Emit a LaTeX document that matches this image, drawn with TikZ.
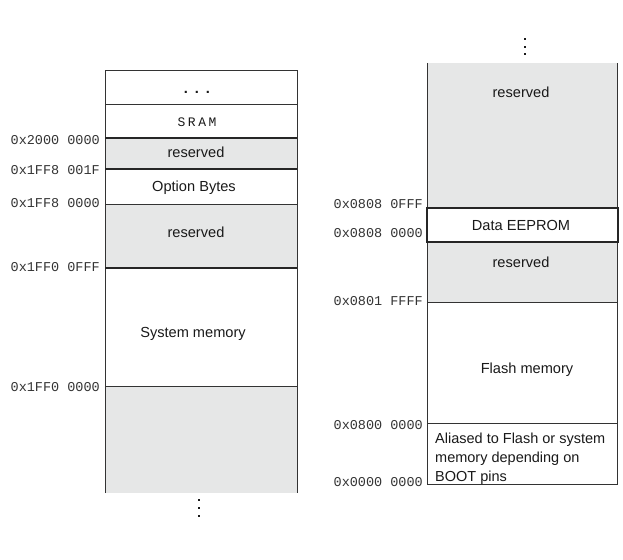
\documentclass[tikz,border=0pt]{standalone}
\usepackage{fontspec}
\setmainfont{Liberation Sans}
\setmonofont{Liberation Mono}
\usetikzlibrary{positioning}
\definecolor{resgray}{RGB}{230,231,231}
\tikzset{
  addr/.style={anchor=east, inner sep=0, text=black!80,
    font=\ttfamily\fontsize{13.5}{14}\selectfont},
  lbl/.style={inner sep=0, text=black!90, font=\fontsize{14.6}{16}\selectfont},
  thin/.style={draw=black!80, line width=0.9pt},
  thick/.style={draw=black!85, line width=1.8pt},
  vdot/.style={fill=black!90, minimum size=2.6pt, inner sep=0, rectangle},
}

\begin{document}
\begin{tikzpicture}[x=1pt,y=-1pt]
  \useasboundingbox (0,0) rectangle (623,559);
  % left column
  \fill[resgray] (105,138) rectangle (297,169);
  \fill[resgray] (105,204) rectangle (297,268);
  \fill[resgray] (105,386) rectangle (297,493);
  \draw[thin] (105,493) -- (105,70) -- (297,70) -- (297,493);
  \draw[thin] (105,104) -- (297,104);
  \draw[thick] (105,138) -- (297,138);
  \draw[thick] (105,169) -- (297,169);
  \draw[thin] (105,204) -- (297,204);
  \draw[thick] (105,268) -- (297,268);
  \draw[thin] (105,386) -- (297,386);
  \node[lbl, anchor=base, font=\bfseries\fontsize{14.6}{16}\selectfont\addfontfeatures{LetterSpace=8}]
    (ldots) at (197,94) {. . .};
  \node[lbl, font=\ttfamily\fontsize{13}{14}\selectfont\addfontfeatures{LetterSpace=20}]
    (sram) at (197,122) {SRAM};
  \node[lbl] (res1) at (196,152) {reserved};
  \node[lbl] (opt) at (194,188) {Option Bytes};
  \node[lbl] (res2) at (196,232) {reserved};
  \node[lbl] (sysmem) at (193,334) {System memory};
  \foreach \y in {500,508,516}
    \node[vdot] at (199,\y) {};
  \node[addr] (a2000) at (100,140) {0x2000 0000};
  \node[addr] (a1ff8f) at (100,170) {0x1FF8 001F};
  \node[addr] (a1ff8) at (100,203) {0x1FF8 0000};
  \node[addr] (a1ff0f) at (100,267) {0x1FF0 0FFF};
  \node[addr] (a1ff0) at (100,387) {0x1FF0 0000};

  % right column
  \fill[resgray] (427,63) rectangle (617,208);
  \fill[resgray] (427,242) rectangle (617,302);
  \draw[thin] (427,63) -- (427,484) -- (617,484) -- (617,63);
  \draw[thin] (427,302) -- (617,302);
  \draw[thin] (427,423) -- (617,423);
  \draw[thick] (427,208) rectangle (618,242);
  \foreach \y in {39,47,54}
    \node[vdot] at (525,\y) {};
  \node[lbl] (res3) at (521,92) {reserved};
  \node[lbl] (eeprom) at (521,225) {Data EEPROM};
  \node[lbl] (res4) at (521,262) {reserved};
  \node[lbl] (flash) at (527,370) {Flash memory};
  \node[lbl, anchor=north west, align=left, font=\fontsize{14.5}{19}\selectfont]
    (alias) at (435,433) {Aliased to Flash or system\\memory depending on\\BOOT pins};
  \node[addr] (a0808f) at (423,204) {0x0808 0FFF};
  \node[addr] (a0808) at (423,233) {0x0808 0000};
  \node[addr] (a0801) at (423,301) {0x0801 FFFF};
  \node[addr] (a0800) at (423,425) {0x0800 0000};
  \node[addr] (a0000) at (423,482) {0x0000 0000};
\end{tikzpicture}
\end{document}
